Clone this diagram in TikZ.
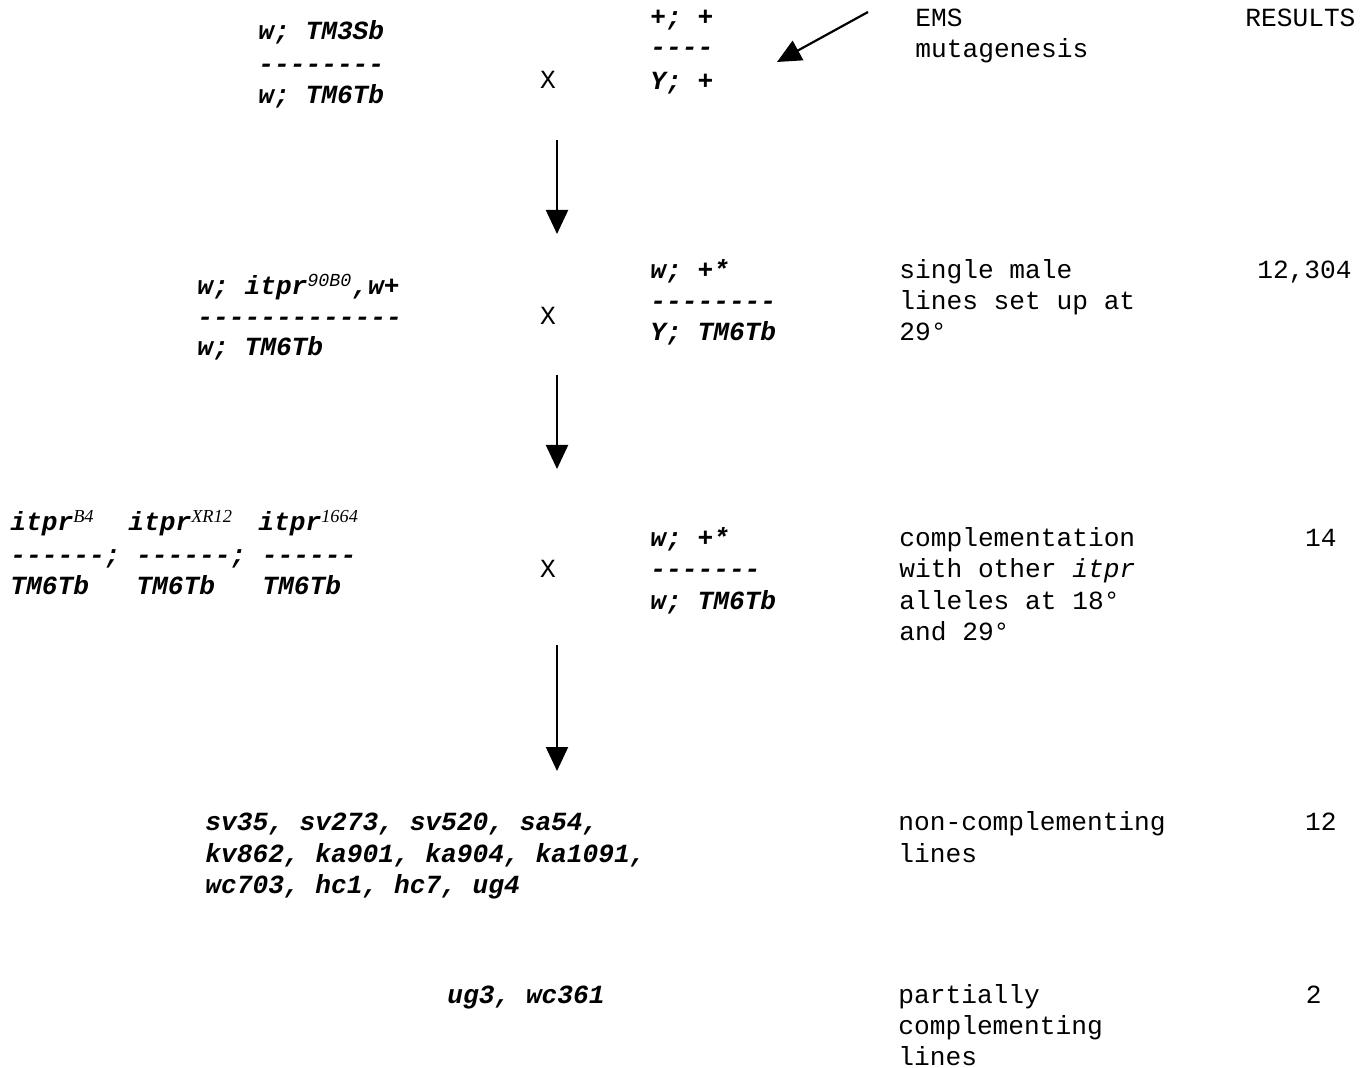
\documentclass[tikz,border=0pt]{standalone}
\usepackage{fontspec}
\setmainfont{Liberation Mono}
\setmonofont{Liberation Mono}
\newfontfamily\serifsup{Liberation Serif}
\usetikzlibrary{arrows.meta}
\frenchspacing
\newcommand{\fs}{\fontsize{13.1}{15}\selectfont\ttfamily}
\tikzset{
  gt/.style={anchor=base west, inner sep=0pt, font=\fs\bfseries\itshape},
  tx/.style={anchor=base west, inner sep=0pt, font=\fs},
  num/.style={anchor=base east, inner sep=0pt, font=\fs},
  cross/.style={anchor=base, inner sep=0pt, font=\fs},
  flow/.style={-{Triangle[width=11pt,length=12pt]}, line width=1.1pt}
}
\newcommand{\supit}[1]{\textsuperscript{\mdseries\itshape #1}}
\newcommand{\supser}[1]{\textsuperscript{\serifsup\mdseries\itshape #1}}
\newcommand{\dd}{\mbox{-}}
\begin{document}
\begin{tikzpicture}[x=0.5pt,y=-0.5pt]
\path[use as bounding box] (0,0) rectangle (1370,1068);
% Row 1
\node[gt] (r1l1) at (258,40) {w; TM3Sb};
\node[gt] (r1l2) at (258,73) {\dd\dd\dd\dd\dd\dd\dd\dd};
\node[gt] (r1l3) at (258,104) {w; TM6Tb};
\node[cross] (x1) at (548,89) {X};
\node[gt] (r1r1) at (650,26) {+; +};
\node[gt] (r1r2) at (650,56) {\dd\dd\dd\dd};
\node[gt] (r1r3) at (650,90) {Y; +};
\node[tx] (ems1) at (915,27) {EMS};
\node[tx] (ems2) at (915,58) {mutagenesis};
\node[tx] (res) at (1245,27) {RESULTS};
\coordinate (emsA) at (868,12);
\coordinate (emsB) at (777,62);
\draw[flow] (emsA) -- (emsB);
% Arrow 1
\coordinate (a1s) at (557,140);
\coordinate (a1e) at (557,234);
\draw[flow] (a1s) -- (a1e);
% Row 2
\node[gt] (r2l1) at (197,295) {w; itpr\supit{90B0},w+};
\node[gt] (r2l2) at (197,326) {\dd\dd\dd\dd\dd\dd\dd\dd\dd\dd\dd\dd\dd};
\node[gt] (r2l3) at (197,356) {w; TM6Tb};
\node[cross] (x2) at (548,325) {X};
\node[gt] (r2r1) at (650,279) {w; +*};
\node[gt] (r2r2) at (650,310) {\dd\dd\dd\dd\dd\dd\dd\dd};
\node[gt] (r2r3) at (650,341) {Y; TM6Tb};
\node[tx] (t21) at (899,279) {single male};
\node[tx] (t22) at (899,310) {lines set up at};
\node[tx] (t23) at (899,341) {29°};
\node[num] (n2) at (1352,279) {12,304};
% Arrow 2
\coordinate (a2s) at (557,375);
\coordinate (a2e) at (557,469);
\draw[flow] (a2s) -- (a2e);
% Row 3
\node[gt] (i1) at (10,531) {itpr\supser{B4}};
\node[gt] (i2) at (128,531) {itpr\supser{XR12}};
\node[gt] (i3) at (258,531) {itpr\supser{1664}};
\node[gt] (d3) at (10,564) {\dd\dd\dd\dd\dd\dd; \dd\dd\dd\dd\dd\dd; \dd\dd\dd\dd\dd\dd};
\node[gt] (b1) at (10,595) {TM6Tb};
\node[gt] (b2) at (136,595) {TM6Tb};
\node[gt] (b3) at (262,595) {TM6Tb};
\node[cross] (x3) at (548,578) {X};
\node[gt] (r3r1) at (650,547) {w; +*};
\node[gt] (r3r2) at (650,578) {\dd\dd\dd\dd\dd\dd\dd};
\node[gt] (r3r3) at (650,610) {w; TM6Tb};
\node[tx] (t31) at (899,547) {complementation};
\node[tx] (t32) at (899,578) {with other \textit{itpr}};
\node[tx] (t33) at (899,610) {alleles at 18°};
\node[tx] (t34) at (899,641) {and 29°};
\node[num] (n3) at (1337,547) {14};
% Arrow 3
\coordinate (a3s) at (557,645);
\coordinate (a3e) at (557,771);
\draw[flow] (a3s) -- (a3e);
% Row 4
\node[gt] (l41) at (205,830) {sv35, sv273, sv520, sa54,};
\node[gt] (l42) at (205,862) {kv862, ka901, ka904, ka1091,};
\node[gt] (l43) at (205,893) {wc703, hc1, hc7, ug4};
\node[tx] (t41) at (898,830) {non-complementing};
\node[tx] (t42) at (898,862) {lines};
\node[num] (n4) at (1337,830) {12};
% Row 5
\node[gt] (l51) at (447,1003) {ug3, wc361};
\node[tx] (t51) at (898,1003) {partially};
\node[tx] (t52) at (898,1034) {complementing};
\node[tx] (t53) at (898,1065) {lines};
\node[num] (n5) at (1322,1003) {2};
\end{tikzpicture}
\end{document}
